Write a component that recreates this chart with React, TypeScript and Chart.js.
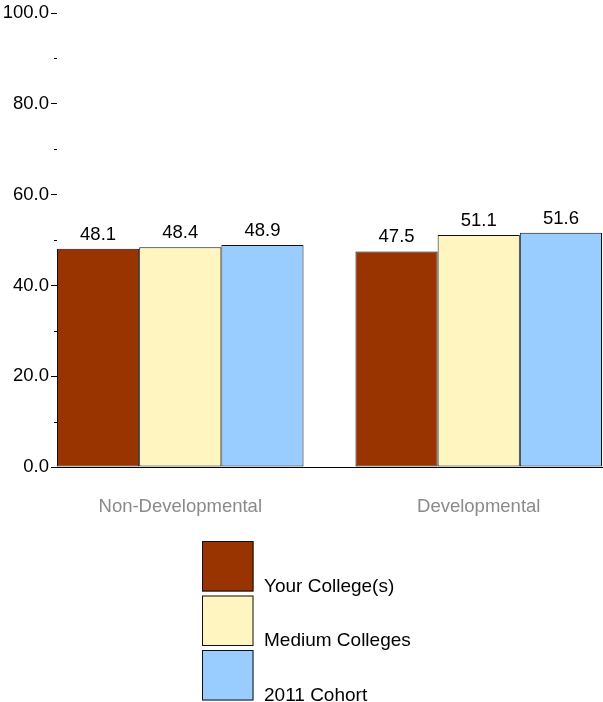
import React, { useEffect, useRef } from 'react';
import { Chart, registerables } from 'chart.js';

Chart.register(...registerables);

const categories = ['Non-Developmental', 'Developmental'];
const seriesNames = ['Your College(s)', 'Medium Colleges', '2011 Cohort'];
const yourCollege = [48.1, 47.5];
const mediumColleges = [48.4, 51.1];
const cohort2011 = [48.9, 51.6];
const seriesColors = ['#993300', '#FFF5C0', '#99CCFF'];
const yMin = 0;
const yMax = 100;
const yStep = 10;
const yLabelStep = 20;

const FONT = '"Liberation Sans", Arial, sans-serif';

const valueLabelPlugin = {
  id: 'valueLabels',
  afterDatasetsDraw(chart: any) {
    const ctx = chart.ctx;
    ctx.save();
    ctx.font = `18.5px ${FONT}`;
    ctx.fillStyle = '#000';
    ctx.textAlign = 'center';
    ctx.textBaseline = 'alphabetic';
    chart.data.datasets.forEach((ds: any, i: number) => {
      const meta = chart.getDatasetMeta(i);
      meta.data.forEach((bar: any, j: number) => {
        const v = ds.data[j].y;
        ctx.fillText(v.toFixed(1), bar.x, bar.y - 9);
      });
    });
    ctx.restore();
  },
};

const minorTickPlugin = {
  id: 'minorTicks',
  afterDraw(chart: any) {
    const ctx = chart.ctx;
    const y = chart.scales.y;
    ctx.save();
    ctx.strokeStyle = '#000';
    ctx.lineWidth = 1;
    for (let v = yMin; v <= yMax; v += yStep) {
      if (v % yLabelStep === 0) continue;
      const py = Math.round(y.getPixelForValue(v)) + 0.5;
      ctx.beginPath();
      ctx.moveTo(y.right - 3, py);
      ctx.lineTo(y.right, py);
      ctx.stroke();
    }
    ctx.restore();
  },
};

const legendPlugin = {
  id: 'boxLegend',
  afterDraw(chart: any) {
    const ctx = chart.ctx;
    const left = 202;
    const top = 541;
    const boxW = 51.5;
    const boxH = 50.5;
    const step = 54.5;
    ctx.save();
    ctx.font = `19px ${FONT}`;
    ctx.textAlign = 'left';
    ctx.textBaseline = 'alphabetic';
    chart.data.datasets.forEach((ds: any, i: number) => {
      const by = top + i * step;
      ctx.fillStyle = ds.backgroundColor;
      ctx.fillRect(left, by, boxW, boxH);
      ctx.strokeStyle = '#111';
      ctx.lineWidth = 1;
      ctx.strokeRect(left + 0.5, by + 0.5, boxW - 1, boxH - 1);
      ctx.fillStyle = '#000';
      ctx.fillText(ds.label, left + 62, by + boxH);
    });
    ctx.restore();
  },
};

export default function App() {
  const ref = useRef<HTMLCanvasElement>(null);

  useEffect(() => {
    if (!ref.current) return;
    const seriesValues = [yourCollege, mediumColleges, cohort2011];
    const chart = new Chart(ref.current, {
      type: 'bar',
      data: {
        datasets: seriesNames.map((name, i) => ({
          label: name,
          data: seriesValues[i].map((v, j) => ({ x: j, y: v })),
          backgroundColor: seriesColors[i],
          borderColor: '#111',
          borderWidth: 1,
          borderSkipped: false,
        })),
      },
      options: {
        responsive: false,
        animation: false,
        devicePixelRatio: 1,
        categoryPercentage: 0.826,
        barPercentage: 1,
        layout: { padding: { top: 12, right: 1, left: 0, bottom: 0 } },
        plugins: {
          legend: { display: false },
          tooltip: { enabled: false },
          title: { display: false },
        },
        scales: {
          x: {
            type: 'linear',
            offset: false,
            min: -0.413,
            max: 1.413,
            afterBuildTicks: (scale: any) => {
              scale.ticks = categories.map((_, i) => ({ value: i }));
            },
            afterFit: (scale: any) => {
              scale.height = 235;
            },
            grid: { display: false, offset: false },
            border: { display: true, color: '#000', width: 1 },
            ticks: {
              autoSkip: false,
              maxRotation: 0,
              padding: 21,
              color: '#8a8a8a',
              font: { family: FONT, size: 18.5 },
              callback: (value: any) => categories[Math.round(value)] ?? '',
            },
          },
          y: {
            min: yMin,
            max: yMax,
            afterFit: (scale: any) => {
              scale.width = 57;
            },
            border: { display: false },
            grid: {
              drawOnChartArea: false,
              drawTicks: true,
              tickLength: 6,
              tickColor: (ctx: any) =>
                ctx.tick && ctx.tick.value % yLabelStep === 0 ? '#000' : 'rgba(0,0,0,0)',
            },
            ticks: {
              stepSize: yStep,
              padding: 2,
              color: '#000',
              font: { family: FONT, size: 18.5 },
              callback: (value: any) =>
                Number(value) % yLabelStep === 0 ? Number(value).toFixed(1) : '',
            },
          },
        },
      },
      plugins: [valueLabelPlugin, minorTickPlugin, legendPlugin],
    } as any);
    return () => chart.destroy();
  }, []);

  return (
    <div style={{ position: 'fixed', left: 0, top: 0, width: 603, height: 702, background: '#fff' }}>
      <canvas ref={ref} width={603} height={702} />
    </div>
  );
}
